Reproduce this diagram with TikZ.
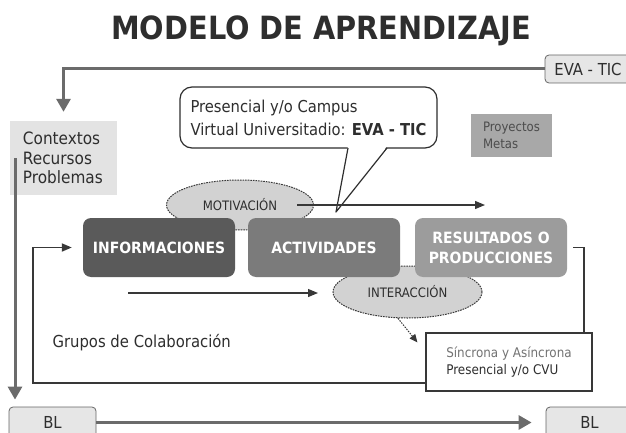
\documentclass[tikz,border=0pt]{standalone}
\usepackage{fontspec}
\setmainfont{DejaVu Sans Condensed}
\usetikzlibrary{arrows.meta,calc,shapes.geometric}
\definecolor{cinfo}{HTML}{5A5A5A}
\definecolor{cact}{HTML}{7B7B7B}
\definecolor{cres}{HTML}{9C9C9C}
\definecolor{cell}{HTML}{D2D2D2}
\definecolor{cctx}{HTML}{E3E3E3}
\definecolor{cproy}{HTML}{A8A8A8}
\definecolor{cthick}{HTML}{6B6B6B}
\definecolor{cdark}{HTML}{383838}
\definecolor{ctxt}{HTML}{2E2E2E}
\definecolor{clight}{HTML}{E6E6E6}
\begin{document}
\begin{tikzpicture}[x=1pt,y=-1pt,
  mainbox/.style={rounded corners=8pt, minimum width=152pt, minimum height=59pt, inner sep=0pt,
    text=white, font=\bfseries\fontsize{15.5}{20}\selectfont, align=center},
  ellnode/.style={ellipse, draw=cdark, fill=cell, line width=1pt, dash pattern=on 1.6pt off 1pt,
    inner sep=0pt, font=\fontsize{13}{14}\selectfont, text=ctxt},
  tagbox/.style={rounded corners=4pt, draw=gray!80!black, fill=clight, line width=0.8pt,
    inner sep=0pt, font=\fontsize{16.5}{18}\selectfont, text=ctxt},
  thickline/.style={draw=cthick, line width=3pt, -{Triangle[width=14pt,length=13pt]}},
  thinarrow/.style={draw=cdark, line width=1.2pt, -{Triangle[width=8pt,length=10pt]}},
  loopline/.style={draw=cdark, line width=1.8pt},
  dotarrow/.style={draw=cdark, line width=1pt, dash pattern=on 1.5pt off 1.2pt, -{Triangle[width=7pt,length=8pt]}}
]
\useasboundingbox (0,0) rectangle (626,433);
% title
\node[anchor=base, font=\bfseries\fontsize{32}{38}\selectfont, text=ctxt] (title) at (321,40) {MODELO DE APRENDIZAJE};
% tags
\node[tagbox, minimum width=95pt, minimum height=28pt] (eva) at (592.5,69) {EVA - TIC\hspace*{9pt}};
\node[tagbox, minimum width=87pt, minimum height=31pt] (blL) at (52.5,422.5) {BL};
\node[tagbox, minimum width=95pt, minimum height=31pt] (blR) at (593.5,422.5) {BL\hspace*{8pt}};
% contexts
\node[fill=cctx, minimum width=107pt, minimum height=74pt, inner xsep=13pt, inner ysep=0pt, text width=81pt,
  align=left, font=\fontsize{17}{19.5}\selectfont, text=ctxt] (ctx) at (63.5,158) {Contextos\\Recursos\\Problemas};
% proyectos
\node[fill=cproy, minimum width=81pt, minimum height=43pt, inner xsep=4pt, inner ysep=0pt,
  align=left, font=\fontsize{13}{17}\selectfont, text=black!70] (proy) at (511.5,135.5) {Proyectos\\Metas};
% speech bubble
\node[draw=ctxt, line width=1.2pt, rounded corners=12pt, fill=white, minimum width=257pt, minimum height=61pt,
  inner xsep=6pt, inner ysep=0pt, align=left, font=\fontsize{16.4}{23}\selectfont, text=ctxt]
  (bubble) at (308.5,117.5) {Presencial y/o Campus\\Virtual Universitadio: \textbf{EVA - TIC}};
\coordinate (tailL) at (348,148);
\coordinate (tailR) at (387,148);
% ellipses
\node[ellnode, minimum width=147pt, minimum height=50pt] (motiv) at (240,205) {MOTIVACIÓN};
\node[ellnode, minimum width=149pt, minimum height=52pt] (inter) at (407.5,292) {\raisebox{-5pt}{INTERACCIÓN}};
% main boxes
\node[mainbox, fill=cinfo] (info) at (159,247.5) {INFORMACIONES};
\node[mainbox, fill=cact] (act) at (324,247.5) {ACTIVIDADES};
\node[mainbox, fill=cres] (res) at (491,247.5) {RESULTADOS O\\PRODUCCIONES};
% tail of the bubble
\coordinate (tip) at (336,212);
\fill[white] ($(tailL)+(0,-2)$) -- (tip) -- ($(tailR)+(0,-2)$) -- cycle;
\draw[ctxt, line width=1.2pt, line join=round] (tailL) -- (tip) -- (tailR);
% text
\node[anchor=west, font=\fontsize{16.5}{18}\selectfont, text=ctxt] (grupos) at (49,343) {Grupos de Colaboración};
\node[draw=cdark, line width=1.2pt, fill=white, minimum width=166pt, minimum height=58pt, inner xsep=8pt,
  inner ysep=0pt, align=left, font=\fontsize{13.3}{17}\selectfont, text=ctxt]
  (sinc) at (509,362) {\textcolor{black!55}{Síncrona y Asíncrona}\\Presencial y/o CVU};
% connectors
\draw[thickline, shorten >=9pt] (eva.west) -| (ctx.north);
\coordinate (vstart) at (15,158);
\draw[thickline, shorten >=7pt] (vstart) -- (vstart |- blL.north);
\draw[thickline, shorten >=14pt] (blL.east) -- (blR.west);
\coordinate (mstart) at (297,205);
\coordinate (mend) at (485,205);
\draw[thinarrow] (mstart) -- (mend);
\coordinate (istart) at (128,293);
\coordinate (iend) at (318,293);
\draw[thinarrow] (istart) -- (iend);
\draw[loopline] ([xshift=6pt]res.east) -| ($(sinc.north east)+(-9,0)$);
\draw[loopline, -{Triangle[width=8pt,length=10pt]}, shorten >=11pt]
  ($(sinc.south west)+(0,-9)$) -| ($(info.west)+(-50,0)$) -- (info.west);
\draw[dotarrow] (inter.250) -- ($(sinc.north west)+(-8,10)$);
\end{tikzpicture}
\end{document}
